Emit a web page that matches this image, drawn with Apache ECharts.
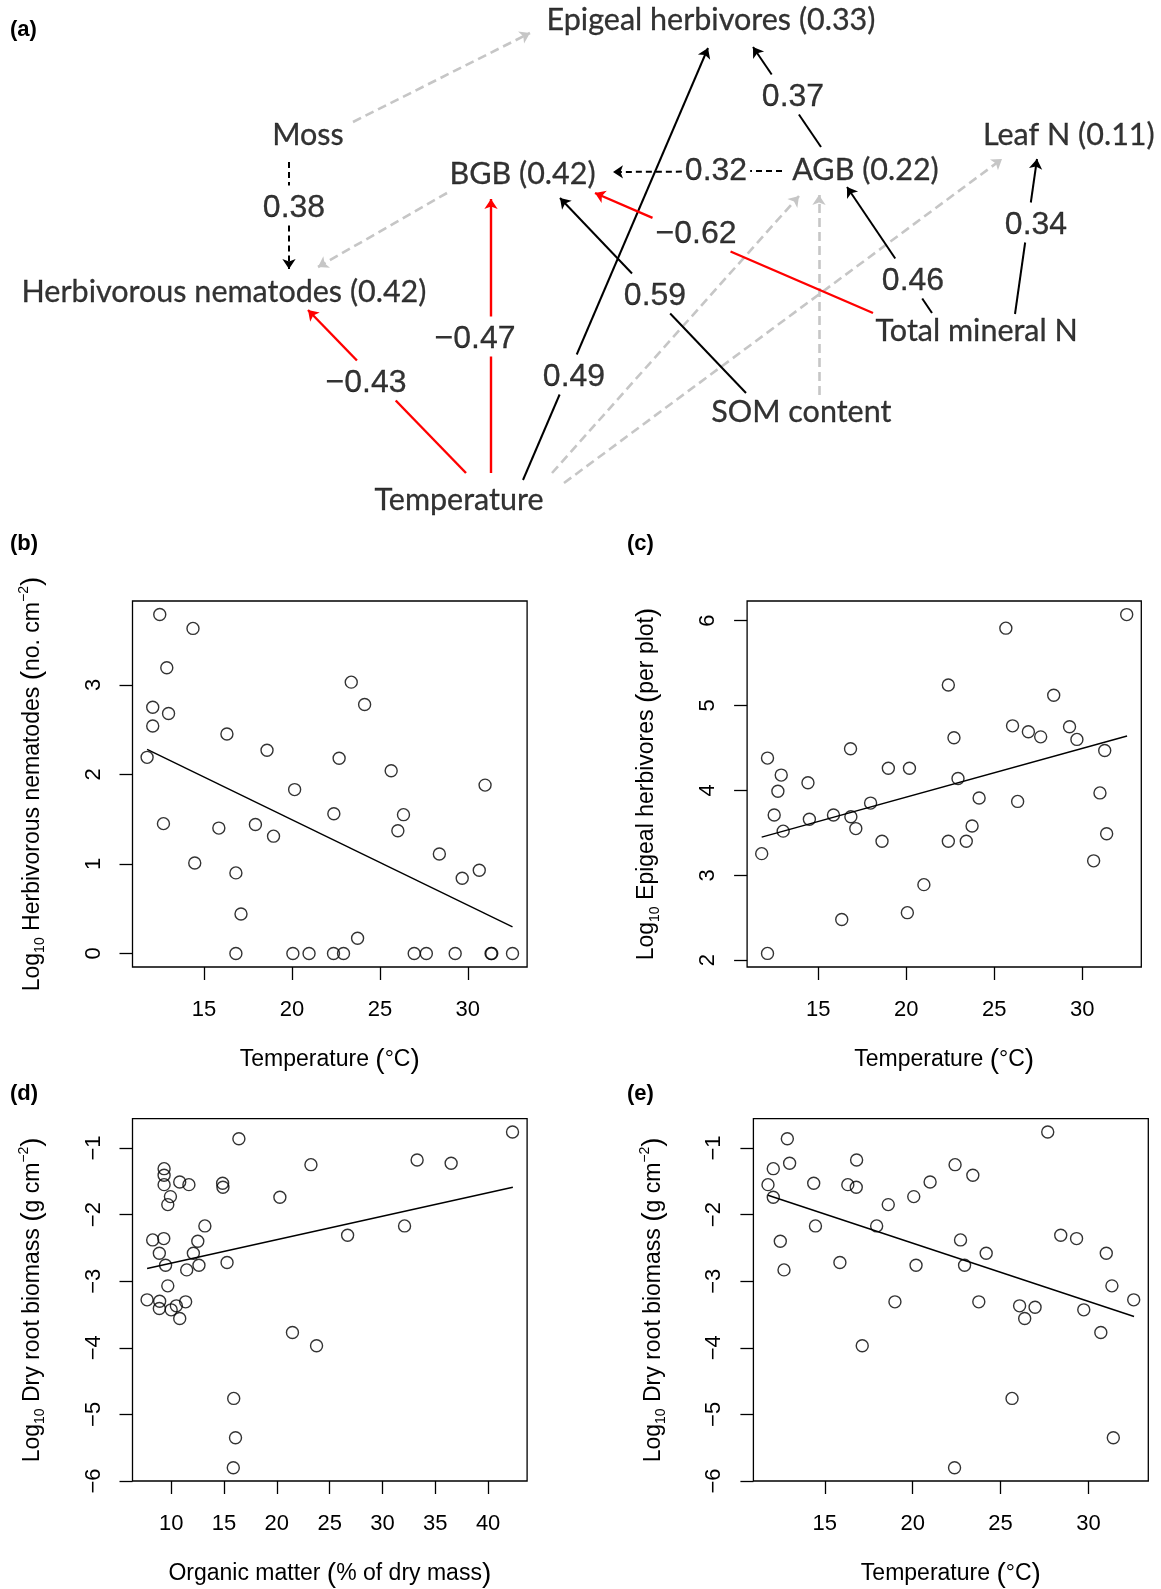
<!DOCTYPE html>
<html><head><meta charset="utf-8">
<script src="https://cdn.jsdelivr.net/npm/echarts@6/dist/echarts.min.js"></script>
<style>html,body{margin:0;padding:0;background:#fff}#c{width:1161px;height:1589px}</style>
</head><body><div id="c"></div>
<script>
// ================= DATA =================
// (a) path diagram
const nodeNames = ['Epigeal herbivores (0.33)','Moss','BGB (0.42)','AGB (0.22)','Leaf N (0.11)','Herbivorous nematodes (0.42)','Total mineral N','SOM content','Temperature'];
const edgeFrom = ['Moss','Moss','BGB (0.42)','AGB (0.22)','AGB (0.22)','Temperature','Temperature','Temperature','Temperature','Temperature','SOM content','SOM content','Total mineral N','Total mineral N','Total mineral N'];
const edgeTo = ['Epigeal herbivores (0.33)','Herbivorous nematodes (0.42)','Herbivorous nematodes (0.42)','BGB (0.42)','Epigeal herbivores (0.33)','Epigeal herbivores (0.33)','Herbivorous nematodes (0.42)','BGB (0.42)','AGB (0.22)','Leaf N (0.11)','BGB (0.42)','AGB (0.22)','BGB (0.42)','AGB (0.22)','Leaf N (0.11)'];
const edgeCoef = [null,0.38,null,0.32,0.37,0.49,-0.43,-0.47,null,null,0.59,null,-0.62,0.46,0.34];
const edgeKind = ['ns','dash','ns','dash','pos','pos','neg','neg','ns','ns','pos','ns','neg','pos','pos'];

// (b) herbivorous nematodes vs temperature
const bTemp = [12.48,14.37,12.88,12.08,12.98,12.08,11.76,12.69,14.47,16.30,15.84,16.81,17.10,16.81,17.92,18.58,18.95,20.15,20.05,20.97,22.38,22.68,22.36,22.93,23.37,24.13,23.73,25.64,26.02,26.34,26.95,27.64,28.38,29.28,29.68,30.65,30.98,31.32,31.36,32.54];
const bNem = [3.785,3.63,3.19,2.75,2.68,2.54,2.19,1.45,1.01,2.45,1.40,0.90,0.44,0,1.44,2.27,1.31,1.83,0,0,1.56,2.18,0,0,3.03,2.78,0.17,2.04,1.37,1.55,0,0,1.11,0,0.84,0.93,1.88,0,0,0];
const bFitX = [11.76,32.54];
const bFitY = [2.28,0.296];

// (c) epigeal herbivores vs temperature
const cTemp = [11.78,12.11,12.11,12.49,12.70,12.89,13.00,14.41,14.49,15.86,16.33,16.83,16.85,17.13,17.97,18.62,18.98,20.18,20.06,21.00,22.39,22.39,22.71,22.94,23.41,23.74,24.14,25.66,26.04,26.33,26.94,27.64,28.38,29.28,29.70,30.65,31.01,31.28,31.39,32.53];
const cHerb = [3.255,4.38,2.08,3.71,3.99,4.18,3.52,4.09,3.66,3.71,2.48,4.49,3.69,3.55,3.85,3.40,4.26,4.26,2.56,2.89,5.24,3.40,4.62,4.14,3.40,3.58,3.91,5.91,4.76,3.87,4.69,4.63,5.12,4.75,4.60,3.17,3.97,4.47,3.49,6.07];
const cFitX = [11.78,32.55];
const cFitY = [3.45,4.64];

// (d) root biomass vs organic matter
const dOM = [7.72,8.25,8.88,8.91,8.88,9.30,9.33,9.33,9.33,9.47,9.68,9.93,9.68,10.0,10.49,10.81,10.81,11.37,11.47,11.68,12.10,12.52,12.63,13.19,14.87,14.90,15.29,15.92,16.09,15.88,16.41,20.29,21.48,23.23,23.76,26.70,32.09,33.28,36.50,42.31];
const dRoot = [-3.28,-2.38,-2.58,-3.30,-3.41,-2.36,-1.31,-1.41,-1.55,-2.76,-1.85,-1.73,-3.07,-3.43,-3.37,-3.56,-1.51,-3.31,-2.83,-1.55,-2.58,-2.40,-2.76,-2.17,-1.53,-1.59,-2.72,-4.76,-5.35,-5.80,-0.86,-1.74,-3.77,-1.25,-3.97,-2.31,-2.17,-1.18,-1.23,-0.76];
const dFitX = [7.72,42.34];
const dFitY = [-2.81,-1.59];

// (e) root biomass vs temperature
const eTemp = [11.77,12.07,12.07,12.47,12.68,12.87,13.00,14.37,14.47,15.86,16.31,16.79,16.81,17.13,17.95,18.61,18.99,20.06,20.19,20.99,22.41,22.38,22.72,22.95,23.42,23.76,24.18,25.65,26.08,26.37,26.96,27.68,28.42,29.32,29.73,30.70,31.01,31.33,31.41,32.57];
const eRoot = [-1.55,-1.31,-1.74,-2.40,-2.83,-0.86,-1.23,-1.53,-2.17,-2.72,-1.55,-1.59,-1.18,-3.97,-2.17,-1.85,-3.31,-1.73,-2.76,-1.51,-1.25,-5.80,-2.38,-2.76,-1.41,-3.31,-2.58,-4.76,-3.37,-3.56,-3.39,-0.76,-2.31,-2.36,-3.43,-3.77,-2.58,-3.07,-5.35,-3.28];
const eFitX = [11.77,32.59];
const eFitY = [-1.71,-3.53];

// tick labels
const tempTicks = [15,20,25,30];
const omTicks = [10,15,20,25,30,35,40];
const nemTicks = [0,1,2,3];
const herbTicks = [2,3,4,5,6];
const rootTicks = [-6,-5,-4,-3,-2,-1];

// ================= LAYOUT (diagram positions, pixels) =================
const nodePos = [[711,20],[308,135.5],[522.5,174.5],[865.5,170],[1068.8,135],[224,291.7],[976.7,331],[801.3,411.7],[459,500]];
const edgeEnds = [
 [[353,122],[530,33]],
 [[289,162],[289,269]],
 [[447,193],[318,267]],
 [[782,171],[613,172]],
 [[821,147],[753,47]],
 [[523,480],[708,48]],
 [[466,473],[308,310]],
 [[491,473],[491,199]],
 [[552,473],[799,196]],
 [[564,483],[1002,159]],
 [[746,393],[560,198]],
 [[819,395],[819,195]],
 [[873,313],[595,193]],
 [[932,313],[847,187]],
 [[1015,314],[1037,159]]
];
const coefPos = [null,[294,207],null,[716,170],[793,96],[574,376],[366,382],[475,338],null,null,[655,295],null,[696,233],[913,280],[1036,224]];

const kindStyle = {
  ns:   {color:'#c6c6c6', width:2.6, type:[9,5]},
  dash: {color:'#000', width:2, type:[6,4]},
  pos:  {color:'#000', width:2, type:'solid'},
  neg:  {color:'#ff0000', width:2.4, type:'solid'}
};
const minus = s => String(s).replace('-', '\u2212');
const fmtCoef = c => (c < 0 ? '\u2212' : '') + Math.abs(c).toFixed(2);
const COEF_FONT = 32;

// measure label widths to leave a gap in the path where the coefficient sits
const mctx = document.createElement('canvas').getContext('2d');
mctx.font = COEF_FONT + 'px "Liberation Sans"';
function boxClip(p0, p1, b) {
  let t0 = 0, t1 = 1;
  const dx = p1[0] - p0[0], dy = p1[1] - p0[1];
  const P = [-dx, dx, -dy, dy];
  const Q = [p0[0] - b.x0, b.x1 - p0[0], p0[1] - b.y0, b.y1 - p0[1]];
  for (let i = 0; i < 4; i++) {
    if (P[i] === 0) { if (Q[i] < 0) return null; continue; }
    const r = Q[i] / P[i];
    if (P[i] < 0) { if (r > t1) return null; if (r > t0) t0 = r; }
    else { if (r < t0) return null; if (r < t1) t1 = r; }
  }
  return [t0, t1];
}
const lerp = (p0, p1, t) => [p0[0] + (p1[0] - p0[0]) * t, p0[1] + (p1[1] - p0[1]) * t];

// ================= BUILD =================
const series = [];
const segs = {};
Object.keys(kindStyle).forEach(k => segs[k] = {tail: [], head: []});
edgeKind.forEach((k, i) => {
  const [p0, p1] = edgeEnds[i];
  const nm = edgeFrom[i] + ' > ' + edgeTo[i];
  if (edgeCoef[i] === null) { segs[k].head.push({name: nm, coords: [p0, p1]}); return; }
  const w = mctx.measureText(fmtCoef(edgeCoef[i])).width;
  const c = coefPos[i];
  const b = {x0: c[0] - w / 2 - 3, x1: c[0] + w / 2 + 3, y0: c[1] - 21.5, y1: c[1] + 18.5};
  const t = boxClip(p0, p1, b);
  if (!t) { segs[k].head.push({name: nm, coords: [p0, p1]}); return; }
  segs[k].tail.push({name: nm, coords: [p0, lerp(p0, p1, t[0])]});
  segs[k].head.push({name: nm, coords: [lerp(p0, p1, t[1]), p1]});
});
Object.keys(kindStyle).forEach(k => {
  ['tail', 'head'].forEach(part => {
    series.push({
      type: 'lines', coordinateSystem: 'cartesian2d', xAxisIndex: 0, yAxisIndex: 0,
      symbol: part === 'head' ? ['none', 'arrow'] : ['none', 'none'], symbolSize: 10, z: 2, silent: true,
      lineStyle: {color: kindStyle[k].color, width: kindStyle[k].width, type: kindStyle[k].type, opacity: 1},
      data: segs[k][part]
    });
  });
});
series.push({
  type: 'scatter', xAxisIndex: 0, yAxisIndex: 0, symbolSize: 1, z: 5, silent: true,
  itemStyle: {color: 'rgba(0,0,0,0)'},
  label: {show: true, position: 'inside', formatter: '{b}', color: '#000', fontFamily: 'Lato', fontSize: 30.5,
          textBorderColor: '#000', textBorderWidth: 0.3},
  data: nodeNames.map((n, i) => ({name: n, value: nodePos[i]}))
});
series.push({
  type: 'scatter', xAxisIndex: 0, yAxisIndex: 0, symbolSize: 1, z: 6, silent: true,
  itemStyle: {color: 'rgba(0,0,0,0)'},
  label: {show: true, position: 'inside', formatter: '{b}', color: '#000', fontFamily: 'Liberation Sans', fontSize: COEF_FONT,
          textBorderColor: '#000', textBorderWidth: 0.3},
  data: edgeCoef.map((c, i) => c === null ? null : ({name: fmtCoef(c), value: [coefPos[i][0], coefPos[i][1] + 1]})).filter(d => d)
});

const panels = [
  {x: bTemp, y: bNem, fx: bFitX, fy: bFitY, grid: {left:132.5, top:601, width:394.6, height:366},
   xr: [10.93, 33.37], yr: [-0.151, 3.936], xt: tempTicks, yt: nemTicks,
   xname: 'Temperature {p|(}\u00B0C{p|)}', yname: 'Log{sub|10} Herbivorous nematodes {p|(}no. cm{sup|\u22122}{p|)}'},
  {x: cTemp, y: cHerb, fx: cFitX, fy: cFitY, grid: {left:747.1, top:601, width:394.2, height:366},
   xr: [10.95, 33.36], yr: [1.92, 6.23], xt: tempTicks, yt: herbTicks,
   xname: 'Temperature {p|(}\u00B0C{p|)}', yname: 'Log{sub|10} Epigeal herbivores {p|(}per plot{p|)}'},
  {x: dOM, y: dRoot, fx: dFitX, fy: dFitY, grid: {left:132.5, top:1118.7, width:394.6, height:365.7},
   xr: [6.34, 43.69], yr: [-6.0, -0.56], xt: omTicks, yt: rootTicks,
   xname: 'Organic matter {p|(}% of dry mass{p|)}', yname: 'Log{sub|10} Dry root biomass {p|(}g cm{sup|\u22122}{p|)}'},
  {x: eTemp, y: eRoot, fx: eFitX, fy: eFitY, grid: {left:753.4, top:1118.7, width:394.9, height:365.7},
   xr: [10.94, 33.40], yr: [-6.0, -0.56], xt: tempTicks, yt: rootTicks,
   xname: 'Temperature {p|(}\u00B0C{p|)}', yname: 'Log{sub|10} Dry root biomass {p|(}g cm{sup|\u22122}{p|)}'}
];

const grids = [{left: 0, top: 0, width: 1161, height: 520, show: false}];
const xAxes = [{gridIndex: 0, type: 'value', min: 0, max: 1161, show: false}];
const yAxes = [{gridIndex: 0, type: 'value', min: 0, max: 520, inverse: true, show: false}];
const tickStyle = {color: '#000', width: 1.3};
const rich = {
  sub: {fontSize: 14, fontFamily: 'Liberation Sans', color: '#000', verticalAlign: 'bottom', lineHeight: 14},
  sup: {fontSize: 14, fontFamily: 'Liberation Sans', color: '#000', verticalAlign: 'top', lineHeight: 14},
  p: {fontSize: 28, fontFamily: 'Liberation Sans', color: '#000', lineHeight: 30}
};
panels.forEach((p, k) => {
  const gi = k + 1;
  grids.push(Object.assign({show: true, borderColor: '#000', borderWidth: 1.3, backgroundColor: 'transparent'}, p.grid));
  xAxes.push({
    gridIndex: gi, type: 'value', min: p.xr[0], max: p.xr[1],
    axisLine: {show: false, onZero: false},
    axisTick: {show: true, length: 13, lineStyle: tickStyle, customValues: p.xt},
    axisLabel: {customValues: p.xt, fontSize: 22, color: '#000', fontFamily: 'Liberation Sans', margin: 32},
    splitLine: {show: false},
    name: p.xname, nameLocation: 'middle', nameGap: 78,
    nameTextStyle: {fontSize: 23, color: '#000', fontFamily: 'Liberation Sans', rich}
  });
  yAxes.push({
    gridIndex: gi, type: 'value', min: p.yr[0], max: p.yr[1],
    axisLine: {show: false, onZero: false},
    axisTick: {show: true, length: 13, lineStyle: tickStyle, customValues: p.yt},
    axisLabel: {customValues: p.yt, fontSize: 22, color: '#000', fontFamily: 'Liberation Sans', margin: 28, rotate: 90,
                formatter: v => minus(v)},
    splitLine: {show: false},
    name: p.yname, nameLocation: 'middle', nameGap: 85, nameRotate: 90,
    nameTextStyle: {fontSize: 23, color: '#000', fontFamily: 'Liberation Sans', rich, lineHeight: 30}
  });
  series.push({
    type: 'scatter', xAxisIndex: gi, yAxisIndex: gi, symbol: 'circle', symbolSize: 12, silent: true,
    itemStyle: {color: 'rgba(255,255,255,0)', borderColor: '#000', borderWidth: 1.4},
    data: p.x.map((v, i) => [v, p.y[i]])
  });
  series.push({
    type: 'line', xAxisIndex: gi, yAxisIndex: gi, showSymbol: false, silent: true,
    lineStyle: {color: '#000', width: 1.4},
    data: p.fx.map((v, i) => [v, p.fy[i]])
  });
});

const panelLetters = ['(a)','(b)','(c)','(d)','(e)'];
const letterPos = [[10,19],[10,533],[627,533],[10,1083],[627,1083]];

const chart = echarts.init(document.getElementById('c'), null, {renderer: 'canvas'});
chart.setOption({
  backgroundColor: '#fff',
  animation: false,
  grid: grids, xAxis: xAxes, yAxis: yAxes, series,
  graphic: panelLetters.map((t, i) => ({
    type: 'text', left: letterPos[i][0], top: letterPos[i][1],
    style: {text: t, font: 'bold 22px "Liberation Sans"', fill: '#000'}
  }))
});
</script></body></html>
